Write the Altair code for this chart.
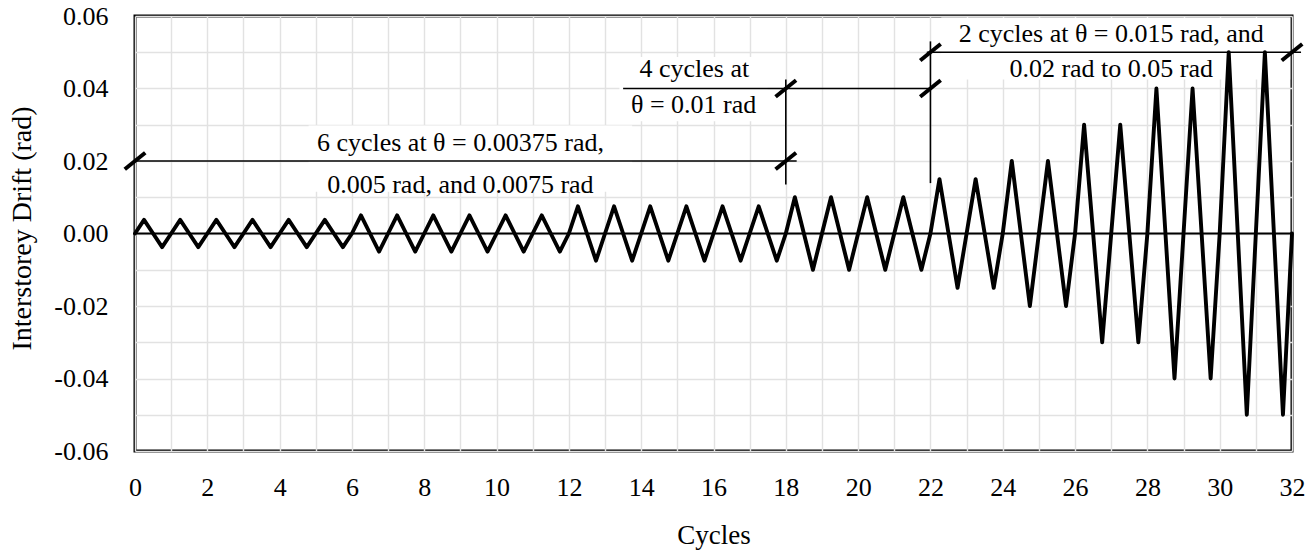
import altair as alt
import pandas as pd

# ---- data ----
# peak drift amplitude of each of the 32 cycles (rad)
cycle_amplitudes = [
    0.00375, 0.00375, 0.00375, 0.00375, 0.00375, 0.00375,
    0.005, 0.005, 0.005, 0.005, 0.005, 0.005,
    0.0075, 0.0075, 0.0075, 0.0075, 0.0075, 0.0075,
    0.01, 0.01, 0.01, 0.01,
    0.015, 0.015, 0.02, 0.02, 0.03, 0.03, 0.04, 0.04, 0.05, 0.05,
]
# one cycle: 0 -> +peak -> 0 -> -peak
cycle_phase = [0.0, 0.25, 0.5, 0.75]
cycle_sign = [0, 1, 0, -1]

x_tick_values = list(range(0, 33))
y_tick_values = [-0.06, -0.05, -0.04, -0.03, -0.02, -0.01, 0.0,
                 0.01, 0.02, 0.03, 0.04, 0.05, 0.06]

# annotation dimension lines
seg_x = [0, 13.5, 21.9, 18, 22]
seg_x2 = [18.3, 22, 32.25, 18, 22]
seg_y = [0.02, 0.04, 0.05, 0.0135, 0.0139]
seg_y2 = [0.02, 0.04, 0.05, 0.0425, 0.053]

# break (slash) marks
slash_x = [0, 18, 18, 22, 22, 32]
slash_y = [0.02, 0.02, 0.04, 0.04, 0.05, 0.05]

# annotation texts
note_text = [
    "6 cycles at \u03b8 = 0.00375 rad,",
    "0.005 rad, and 0.0075 rad",
    "4 cycles at",
    "\u03b8 = 0.01 rad",
    "2 cycles at \u03b8 = 0.015 rad, and",
    "0.02 rad to 0.05 rad",
]
note_x = [9, 9, 15.47, 15.45, 27, 27]
note_y = [0.0228, 0.0111, 0.0431, 0.0332, 0.0529, 0.0431]

# white backgrounds behind the annotation texts
box_x = [4.8, 13.4, 22.3]
box_x2 = [13.75, 17.5, 31.95]
box_y = [0.0115, 0.031, 0.0425]
box_y2 = [0.0298, 0.0487, 0.0596]

# ---- tables ----
wx, wy = [], []
for i, amp in enumerate(cycle_amplitudes):
    for p, s in zip(cycle_phase, cycle_sign):
        wx.append(i + p)
        wy.append(s * amp)
wx.append(len(cycle_amplitudes))
wy.append(0.0)
wave = pd.DataFrame({"cycle": wx, "drift": wy})

segs = pd.DataFrame({"x": seg_x, "x2": seg_x2, "y": seg_y, "y2": seg_y2})
slashes = pd.DataFrame({"x": slash_x, "y": slash_y})
notes = pd.DataFrame({"x": note_x, "y": note_y, "t": note_text})
boxes = pd.DataFrame({"x": box_x, "x2": box_x2, "y": box_y, "y2": box_y2})
zero = pd.DataFrame({"y": [0.0]})

FONT = "Liberation Serif"
xs = alt.Scale(domain=[0, 32], nice=False, zero=False)
ys = alt.Scale(domain=[-0.06, 0.06], nice=False, zero=False)

x_axis = alt.Axis(
    title="Cycles", values=x_tick_values,
    labelExpr="datum.value % 2 == 0 ? datum.label : ''",
    grid=True, gridColor="#e2e2e2", gridWidth=1.4,
    ticks=False, domain=False, labelOverlap=False, labelFlush=False, labelBound=False,
    labelFont=FONT, labelFontSize=26, labelColor="black", labelPadding=23,
    titleFont=FONT, titleFontSize=27, titleFontWeight="normal", titleColor="black",
    titleBaseline="alphabetic", titleY=92,
)
y_axis = alt.Axis(
    title="Interstorey Drift (rad)", values=y_tick_values,
    labelExpr="abs(round(datum.value * 100)) % 2 == 0 ? ((datum.value < -0.000001 ? '-' : '') + format(abs(datum.value), '.2f')) : ''",
    grid=True, gridColor="#e2e2e2", gridWidth=1.4,
    ticks=False, domain=False, labelOverlap=False, labelFlush=False, labelBound=False,
    labelFont=FONT, labelFontSize=26, labelColor="black", labelPadding=27,
    titleFont=FONT, titleFontSize=28, titleFontWeight="normal", titleColor="black",
    titleBaseline="middle", titleX=-113, titleY=212, titleAngle=270,
)


def X(field):
    return alt.X(field, scale=xs, axis=x_axis)


def Y(field):
    return alt.Y(field, scale=ys, axis=y_axis)


box_layer = alt.Chart(boxes).mark_rect(color="white").encode(
    x=X("x:Q"), x2="x2:Q", y=Y("y:Q"), y2="y2:Q",
)

wave_line = alt.Chart(wave).mark_line(
    color="black", strokeWidth=3.9, strokeJoin="round", strokeCap="round"
).encode(
    x=X("cycle:Q"), y=Y("drift:Q"), order="cycle:Q",
)

zero_line = alt.Chart(zero).mark_rule(color="black", strokeWidth=2).encode(
    y=Y("y:Q")
)

seg_layer = alt.Chart(segs).mark_rule(color="black", strokeWidth=1.6).encode(
    x=X("x:Q"), x2="x2:Q", y=Y("y:Q"), y2="y2:Q",
)

slash_layer = alt.Chart(slashes).mark_point(
    shape="M-1,0.8L1,-0.8", size=420, filled=False, strokeWidth=4,
    color="black", opacity=1,
).encode(
    x=X("x:Q"), y=Y("y:Q"),
)

note_layer = alt.Chart(notes).mark_text(
    font=FONT, fontSize=26, align="center", baseline="alphabetic", color="black"
).encode(
    x=X("x:Q"), y=Y("y:Q"), text="t:N",
)

chart = alt.layer(
    box_layer, zero_line, wave_line, seg_layer, slash_layer, note_layer
).properties(
    width=1157, height=435,
    autosize=alt.AutoSizeParams(type="none"),
    padding={"left": 135, "top": 16, "right": 23, "bottom": 99},
    background="white",
).configure_view(
    stroke="black", strokeWidth=3
)

chart.save("out.html", embed_options={"renderer": "svg", "actions": False})
